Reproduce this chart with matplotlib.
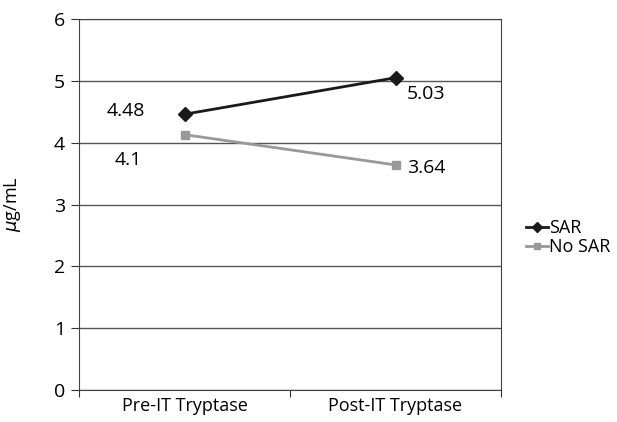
import matplotlib
matplotlib.use("Agg")
import matplotlib.pyplot as plt

categories = ['Pre-IT Tryptase', 'Post-IT Tryptase']
sar = [4.48, 5.03]
no_sar = [4.1, 3.64]
# points drawn slightly off labelled values, as in the source chart
sar_plot = [4.46, 5.05]
no_sar_plot = [4.13, 3.64]

plt.rcParams['font.family'] = ['Open Sans', 'DejaVu Sans']

fig = plt.figure(figsize=(6.17, 4.22), dpi=100)
ax = fig.add_axes([79 / 617, 32 / 422, 422 / 617, 371 / 422])

x = range(len(categories))
ax.plot(x, sar_plot, color='#1a1a1a', lw=2, marker='D', ms=7, label='SAR')
ax.plot(x, no_sar_plot, color='#999999', lw=2, marker='s', ms=6, label='No SAR')

ax.set_xlim(-0.5, 1.5)
ax.set_ylim(0, 6)
ax.set_yticks(range(0, 7))
ax.yaxis.grid(True, color='#555555', lw=1)
ax.set_axisbelow(True)

ax.set_xticks([-0.5, 0.5, 1.5])
ax.set_xticklabels([])
ax.set_xticks([0, 1], minor=True)
ax.set_xticklabels(categories, minor=True)
ax.tick_params(axis='x', which='minor', length=0, labelsize=13, pad=5)
ax.tick_params(axis='x', which='major', length=5, direction='out', color='#333333')
ax.tick_params(axis='y', length=6, labelsize=14, color='#333333', pad=4)
for s in ax.spines.values():
    s.set_color('#444444')

ax.set_ylabel('$\\mu$g/mL', fontsize=13, labelpad=22)

ax.annotate(f'{sar[0]}', (0, sar_plot[0]), xytext=(-56, 2), textcoords='offset points',
            ha='left', va='center', fontsize=14)
ax.annotate(f'{no_sar[0]}', (0, no_sar_plot[0]), xytext=(-50, -18), textcoords='offset points',
            ha='left', va='center', fontsize=14)
ax.annotate(f'{sar[1]}', (1, sar_plot[1]), xytext=(8, -12), textcoords='offset points',
            ha='left', va='center', fontsize=14)
ax.annotate(f'{no_sar[1]}', (1, no_sar_plot[1]), xytext=(8, -2), textcoords='offset points',
            ha='left', va='center', fontsize=14)

fig.legend(loc='upper left', bbox_to_anchor=(517 / 617, 1 - 210 / 422), frameon=False,
           fontsize=13, handlelength=1.2, handletextpad=0.05, borderpad=0, labelspacing=0.05,
           markerscale=0.8)

fig.savefig('out.png', dpi=100)
